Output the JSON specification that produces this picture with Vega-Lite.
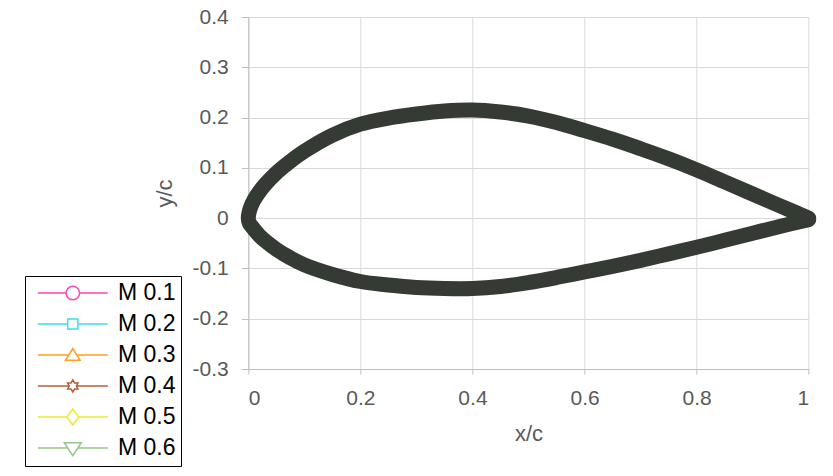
{
  "$schema": "https://vega.github.io/schema/vega-lite/v6.json",
  "width": 560.4,
  "height": 352,
  "autosize": {"type": "none"},
  "padding": {"left": 248.3, "top": 17, "right": 24.3, "bottom": 107},
  "background": "white",
  "config": {
    "view": {"stroke": null},
    "font": "Liberation Sans",
    "axis": {
      "labelFont": "Liberation Sans",
      "labelFontSize": 21,
      "labelColor": "#595959",
      "titleFont": "Liberation Sans",
      "titleFontSize": 22,
      "titleFontWeight": "normal",
      "titleColor": "#595959",
      "gridColor": "#d9d9d9",
      "gridWidth": 1,
      "domainColor": "#bfbfbf",
      "tickColor": "#bfbfbf"
    },
    "legend": {
      "orient": "none",
      "legendX": -223.3,
      "legendY": 259,
      "direction": "vertical",
      "padding": 5.5,
      "strokeColor": "#000000",
      "strokeWidth": 1,
      "fillColor": "white",
      "labelFont": "Liberation Sans",
      "labelFontSize": 23,
      "labelColor": "#000000",
      "labelLimit": 300,
      "symbolSize": 100,
      "symbolOffset": 30.8,
      "labelOffset": 33.6,
      "rowPadding": 7.0,
      "symbolStrokeWidth": 1.5
    }
  },
  "datasets": {
    "series": [
      {"series": "M 0.1"},
      {"series": "M 0.2"},
      {"series": "M 0.3"},
      {"series": "M 0.4"},
      {"series": "M 0.5"},
      {"series": "M 0.6"}
    ],
    "airfoil": [
      {"i": 0, "x": 1.0, "y": 0.0},
      {"i": 1, "x": 0.95, "y": 0.024},
      {"i": 2, "x": 0.9, "y": 0.048},
      {"i": 3, "x": 0.85, "y": 0.072},
      {"i": 4, "x": 0.8, "y": 0.096},
      {"i": 5, "x": 0.75, "y": 0.118},
      {"i": 6, "x": 0.7, "y": 0.138},
      {"i": 7, "x": 0.65, "y": 0.157},
      {"i": 8, "x": 0.6, "y": 0.174},
      {"i": 9, "x": 0.55, "y": 0.19},
      {"i": 10, "x": 0.5, "y": 0.203},
      {"i": 11, "x": 0.45, "y": 0.211},
      {"i": 12, "x": 0.4, "y": 0.215},
      {"i": 13, "x": 0.35, "y": 0.213},
      {"i": 14, "x": 0.3, "y": 0.207},
      {"i": 15, "x": 0.25, "y": 0.199},
      {"i": 16, "x": 0.2, "y": 0.187},
      {"i": 17, "x": 0.15, "y": 0.165},
      {"i": 18, "x": 0.1, "y": 0.133},
      {"i": 19, "x": 0.075, "y": 0.113},
      {"i": 20, "x": 0.05, "y": 0.09},
      {"i": 21, "x": 0.03, "y": 0.067},
      {"i": 22, "x": 0.02, "y": 0.053},
      {"i": 23, "x": 0.01, "y": 0.036},
      {"i": 24, "x": 0.005, "y": 0.024},
      {"i": 25, "x": 0.0015, "y": 0.012},
      {"i": 26, "x": 0.0, "y": 0.0},
      {"i": 27, "x": 0.0015, "y": -0.009},
      {"i": 28, "x": 0.005, "y": -0.015},
      {"i": 29, "x": 0.01, "y": -0.022},
      {"i": 30, "x": 0.02, "y": -0.035},
      {"i": 31, "x": 0.03, "y": -0.045},
      {"i": 32, "x": 0.05, "y": -0.062},
      {"i": 33, "x": 0.075, "y": -0.079},
      {"i": 34, "x": 0.1, "y": -0.093},
      {"i": 35, "x": 0.15, "y": -0.112},
      {"i": 36, "x": 0.2, "y": -0.126},
      {"i": 37, "x": 0.25, "y": -0.133},
      {"i": 38, "x": 0.3, "y": -0.138},
      {"i": 39, "x": 0.35, "y": -0.14},
      {"i": 40, "x": 0.4, "y": -0.14},
      {"i": 41, "x": 0.45, "y": -0.136},
      {"i": 42, "x": 0.5, "y": -0.128},
      {"i": 43, "x": 0.55, "y": -0.118},
      {"i": 44, "x": 0.6, "y": -0.107},
      {"i": 45, "x": 0.65, "y": -0.096},
      {"i": 46, "x": 0.7, "y": -0.084},
      {"i": 47, "x": 0.75, "y": -0.071},
      {"i": 48, "x": 0.8, "y": -0.058},
      {"i": 49, "x": 0.85, "y": -0.044},
      {"i": 50, "x": 0.9, "y": -0.03},
      {"i": 51, "x": 0.95, "y": -0.016},
      {"i": 52, "x": 1.0, "y": -0.003}
    ]
  },
  "layer": [
    {
      "data": {"name": "series"},
      "mark": {"type": "point", "filled": false, "opacity": 0},
      "encoding": {
        "color": {
          "field": "series",
          "type": "nominal",
          "scale": {"range": ["#ff45b5", "#3fdcf0", "#ffa020", "#b5603a", "#eaea30", "#98c488"]},
          "legend": {"title": null}
        },
        "shape": {
          "field": "series",
          "type": "nominal",
          "scale": {"range": [
            "M-7,0H-1.35M1.35,0H7M1.35,0A1.35,1.35,0,1,1,-1.35,0A1.35,1.35,0,1,1,1.35,0Z",
            "M-7,0H-1.02M1.02,0H7M-1.02,-1.02H1.02V1.02H-1.02Z",
            "M-7,0H-0.8M0.8,0H7M0,-1.3L1.45,1.05H-1.45Z",
            "M-7,0H-0.7M0.7,0H7M0,-1.2L0.35,-0.6L1.04,-0.6L0.7,0L1.04,0.6L0.35,0.6L0,1.2L-0.35,0.6L-1.04,0.6L-0.7,0L-1.04,-0.6L-0.35,-0.6Z",
            "M-7,0H-1.2M1.2,0H7M0,-1.6L1.2,0L0,1.6L-1.2,0Z",
            "M-7,0H-1.0M1.0,0H7M-1.7,-1.05H1.7L0,1.55Z"
          ]},
          "legend": {"title": null}
        }
      }
    },
    {
      "data": {"name": "airfoil"},
      "mark": {"type": "line", "color": "#333b32", "strokeWidth": 15, "strokeCap": "round", "strokeJoin": "round", "interpolate": "catmull-rom"},
      "encoding": {
        "x": {
          "field": "x",
          "type": "quantitative",
          "scale": {"domain": [0, 1], "nice": false, "zero": false},
          "axis": {
            "values": [0, 0.2, 0.4, 0.6, 0.8, 1],
            "format": ".1~f",
            "title": "x/c",
            "tickSize": 5,
            "labelPadding": 13,
            "titlePadding": 15
          }
        },
        "y": {
          "field": "y",
          "type": "quantitative",
          "scale": {"domain": [-0.3, 0.4], "nice": false, "zero": false},
          "axis": {
            "values": [-0.3, -0.2, -0.1, 0, 0.1, 0.2, 0.3, 0.4],
            "labelExpr": "datum.value == 0 ? '0' : (datum.value < 0 ? '-' + format(-datum.value, '.1f') : format(datum.value, '.1f'))",
            "title": "y/c",
            "tickSize": 7,
            "labelPadding": 13,
            "titlePadding": 16
          }
        },
        "order": {"field": "i", "type": "quantitative"}
      }
    }
  ]
}
